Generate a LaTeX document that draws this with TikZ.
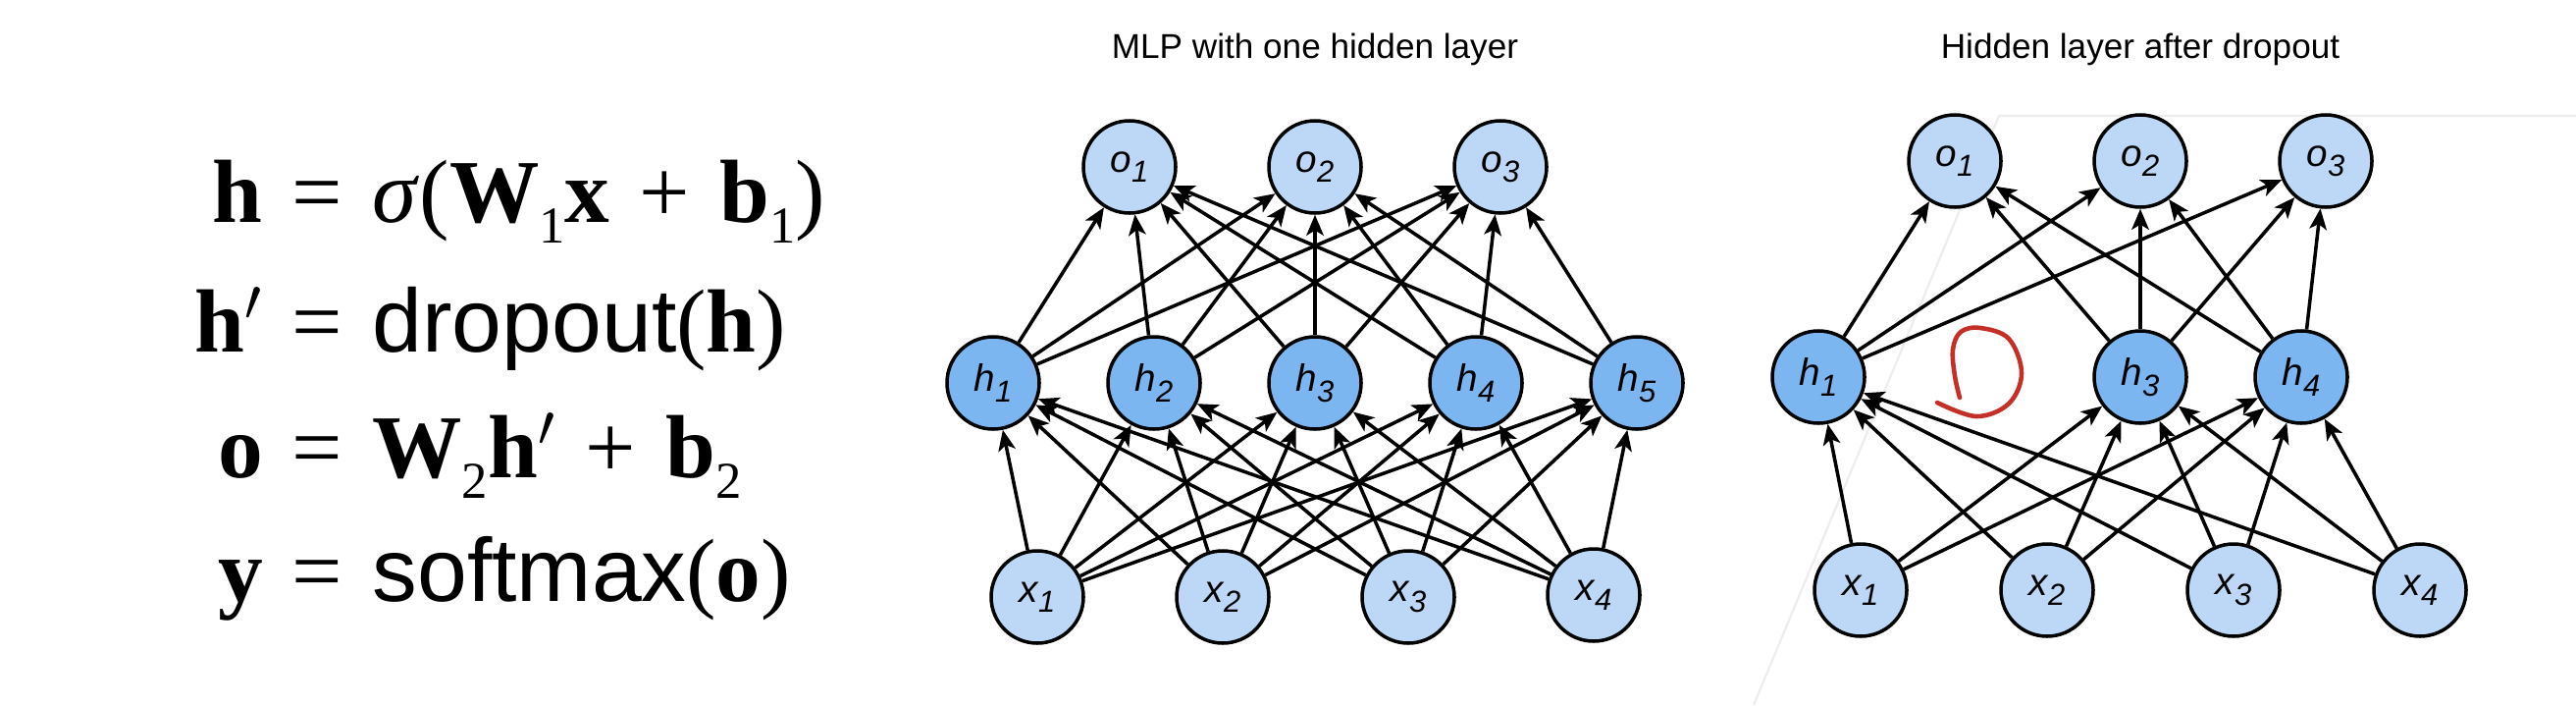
\documentclass[tikz,border=0pt]{standalone}
\usepackage{fontspec}
\setmainfont{Liberation Sans}
\setsansfont{Liberation Sans}
\newfontfamily\eqfont{Liberation Serif}
\usetikzlibrary{arrows.meta}
\definecolor{inblue}{RGB}{189,216,247}
\definecolor{hidblue}{RGB}{124,182,240}
\definecolor{penred}{RGB}{196,48,40}
\newcommand{\nlab}[2]{\textit{#1\raisebox{-0.27em}{\fontsize{8.8}{9}\selectfont #2}}}
\newcommand{\vb}[1]{\textbf{#1}}
\newcommand{\esub}[1]{\raisebox{-0.23em}{\fontsize{15}{15}\selectfont #1}}
\newcommand{\eqgap}{\hspace{0.33em}}
\begin{document}
\begin{tikzpicture}[
  unit/.style={circle,draw,line width=1pt,minimum size=0.94cm,inner sep=0pt,font=\fontsize{11}{13}\selectfont},
  inunit/.style={unit,fill=inblue},
  hidunit/.style={unit,fill=hidblue},
  link/.style={-{Stealth[length=6pt,width=5pt,inset=1.5pt]},line width=1pt},
  title/.style={font=\fontsize{10}{12}\selectfont},
  eqline/.style={anchor=base west,inner sep=0pt,font=\eqfont\fontsize{26}{30}\selectfont},
  pen/.style={penred,line width=1.3pt,line cap=round,line join=round}]
\path[use as bounding box,fill=white] (0,0) rectangle (26.25,7.18);
\draw[black!7,line width=0.6pt] (17.87,0) -- (20.37,6.00) -- (26.25,6.00);
% equations
\node[eqline] (E1) at (1.30,4.92) {\makebox[1.5em][r]{\vb{h}}\eqgap=\eqgap\textit{σ}(\vb{W}\esub{1}\vb{x}\eqgap+\eqgap\vb{b}\esub{1})};
\node[eqline] (E2) at (1.30,3.60) {\makebox[1.5em][r]{\vb{h}$'$}\eqgap=\eqgap{\sffamily dropout}(\vb{h})};
\node[eqline] (E3) at (1.30,2.32) {\makebox[1.5em][r]{\vb{o}}\eqgap=\eqgap\vb{W}\esub{2}\vb{h}$'$\eqgap+\eqgap\vb{b}\esub{2}};
\node[eqline] (E4) at (1.30,1.06) {\makebox[1.5em][r]{\vb{y}}\eqgap=\eqgap{\sffamily softmax}(\vb{o})};
% MLP with one hidden layer
\node[title] (T1) at (13.40,6.68) {MLP with one hidden layer};
\node[inunit] (O1) at (11.51,5.48) {\nlab{o}{1}};
\node[inunit] (O2) at (13.40,5.48) {\nlab{o}{2}};
\node[inunit] (O3) at (15.29,5.48) {\nlab{o}{3}};
\node[hidunit] (H1) at (10.12,3.28) {\nlab{h}{1}};
\node[hidunit] (H2) at (11.76,3.28) {\nlab{h}{2}};
\node[hidunit] (H3) at (13.40,3.28) {\nlab{h}{3}};
\node[hidunit] (H4) at (15.04,3.28) {\nlab{h}{4}};
\node[hidunit] (H5) at (16.68,3.28) {\nlab{h}{5}};
\node[inunit] (X1) at (10.57,1.10) {\nlab{x}{1}};
\node[inunit] (X2) at (12.46,1.10) {\nlab{x}{2}};
\node[inunit] (X3) at (14.35,1.10) {\nlab{x}{3}};
\node[inunit] (X4) at (16.24,1.12) {\nlab{x}{4}};
\draw[link] (X1) edge (H1) edge (H2) edge (H3) edge (H4) edge (H5);
\draw[link] (X2) edge (H1) edge (H2) edge (H3) edge (H4) edge (H5);
\draw[link] (X3) edge (H1) edge (H2) edge (H3) edge (H4) edge (H5);
\draw[link] (X4) edge (H1) edge (H2) edge (H3) edge (H4) edge (H5);
\draw[link] (H1) edge (O1) edge (O2) edge (O3);
\draw[link] (H2) edge (O1) edge (O2) edge (O3);
\draw[link] (H3) edge (O1) edge (O2) edge (O3);
\draw[link] (H4) edge (O1) edge (O2) edge (O3);
\draw[link] (H5) edge (O1) edge (O2) edge (O3);
% Hidden layer after dropout
\node[title] (T2) at (21.81,6.68) {Hidden layer after dropout};
\node[inunit] (OD1) at (19.92,5.54) {\nlab{o}{1}};
\node[inunit] (OD2) at (21.81,5.54) {\nlab{o}{2}};
\node[inunit] (OD3) at (23.70,5.54) {\nlab{o}{3}};
\node[hidunit] (HD1) at (18.53,3.34) {\nlab{h}{1}};
\node[hidunit] (HD3) at (21.81,3.34) {\nlab{h}{3}};
\node[hidunit] (HD4) at (23.45,3.34) {\nlab{h}{4}};
\node[inunit] (XD1) at (18.96,1.17) {\nlab{x}{1}};
\node[inunit] (XD2) at (20.86,1.17) {\nlab{x}{2}};
\node[inunit] (XD3) at (22.76,1.17) {\nlab{x}{3}};
\node[inunit] (XD4) at (24.66,1.17) {\nlab{x}{4}};
\draw[link] (XD1) edge (HD1) edge (HD3) edge (HD4);
\draw[link] (XD2) edge (HD1) edge (HD3) edge (HD4);
\draw[link] (XD3) edge (HD1) edge (HD3) edge (HD4);
\draw[link] (XD4) edge (HD1) edge (HD3) edge (HD4);
\draw[link] (HD1) edge (OD1) edge (OD2) edge (OD3);
\draw[link] (HD3) edge (OD1) edge (OD2) edge (OD3);
\draw[link] (HD4) edge (OD1) edge (OD2) edge (OD3);
% hand-drawn mark where h2 was
\draw[pen] plot[smooth,tension=0.6] coordinates {(19.74,3.08) (20.14,2.94) (20.47,3.07) (20.60,3.38) (20.47,3.73) (20.18,3.84) (19.98,3.80) (19.90,3.62) (19.92,3.35) (19.97,3.13)};
\end{tikzpicture}
\end{document}
